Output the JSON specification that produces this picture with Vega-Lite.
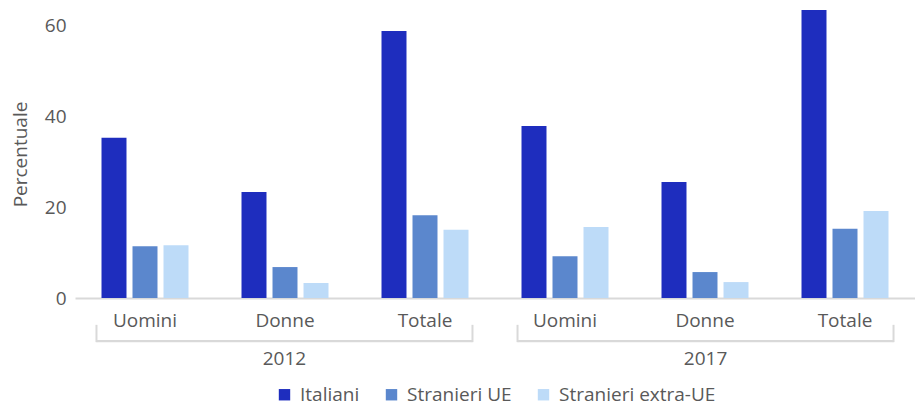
{
  "$schema": "https://vega.github.io/schema/vega-lite/v6.json",
  "width": 840,
  "height": 288,
  "autosize": "none",
  "padding": {"left": 75, "top": 10, "right": 0, "bottom": 108},
  "config": {
    "view": {"stroke": null},
    "font": "Open Sans",
    "axis": {"labelColor": "#595959", "titleColor": "#595959", "labelFont": "Open Sans", "titleFont": "Open Sans"},
    "legend": {"labelColor": "#595959", "labelFont": "Open Sans", "layout": {"bottom": {"anchor": "middle"}}}
  },
  "layer": [
    {
      "data": {
        "values": [
          {"gruppo": "2012|Uomini", "serie": "Italiani", "valore": 35.2},
          {"gruppo": "2012|Uomini", "serie": "Stranieri UE", "valore": 11.4},
          {"gruppo": "2012|Uomini", "serie": "Stranieri extra-UE", "valore": 11.6},
          {"gruppo": "2012|Donne", "serie": "Italiani", "valore": 23.3},
          {"gruppo": "2012|Donne", "serie": "Stranieri UE", "valore": 6.8},
          {"gruppo": "2012|Donne", "serie": "Stranieri extra-UE", "valore": 3.3},
          {"gruppo": "2012|Totale", "serie": "Italiani", "valore": 58.7},
          {"gruppo": "2012|Totale", "serie": "Stranieri UE", "valore": 18.2},
          {"gruppo": "2012|Totale", "serie": "Stranieri extra-UE", "valore": 15.0},
          {"gruppo": "2017|Uomini", "serie": "Italiani", "valore": 37.8},
          {"gruppo": "2017|Uomini", "serie": "Stranieri UE", "valore": 9.2},
          {"gruppo": "2017|Uomini", "serie": "Stranieri extra-UE", "valore": 15.6},
          {"gruppo": "2017|Donne", "serie": "Italiani", "valore": 25.5},
          {"gruppo": "2017|Donne", "serie": "Stranieri UE", "valore": 5.7},
          {"gruppo": "2017|Donne", "serie": "Stranieri extra-UE", "valore": 3.5},
          {"gruppo": "2017|Totale", "serie": "Italiani", "valore": 63.3},
          {"gruppo": "2017|Totale", "serie": "Stranieri UE", "valore": 15.2},
          {"gruppo": "2017|Totale", "serie": "Stranieri extra-UE", "valore": 19.1}
        ]
      },
      "mark": {"type": "bar"},
      "encoding": {
        "x": {
          "field": "gruppo",
          "type": "nominal",
          "sort": ["2012|Uomini", "2012|Donne", "2012|Totale", "2017|Uomini", "2017|Donne", "2017|Totale"],
          "scale": {"paddingInner": 0, "paddingOuter": 0},
          "title": null,
          "axis": {
            "labelExpr": "split(datum.label, '|')[1]",
            "labelAngle": 0,
            "labelFontSize": 19,
            "labelPadding": 13,
            "ticks": false,
            "domainColor": "#d9d9d9",
            "domainWidth": 2,
            "grid": false
          }
        },
        "xOffset": {
          "field": "serie",
          "type": "nominal",
          "sort": ["Italiani", "Stranieri UE", "Stranieri extra-UE"],
          "scale": {"paddingInner": 0.194, "paddingOuter": 0.855}
        },
        "y": {
          "field": "valore",
          "type": "quantitative",
          "scale": {"domain": [0, 63.3], "nice": false},
          "title": "Percentuale",
          "axis": {
            "values": [0, 20, 40, 60],
            "grid": false,
            "domain": false,
            "ticks": false,
            "labelFontSize": 19,
            "labelPadding": 9,
            "titleFontSize": 19,
            "titleFontWeight": "normal",
            "titlePadding": 14
          }
        },
        "color": {
          "field": "serie",
          "type": "nominal",
          "sort": ["Italiani", "Stranieri UE", "Stranieri extra-UE"],
          "scale": {"domain": ["Italiani", "Stranieri UE", "Stranieri extra-UE"], "range": ["#1e2dbe", "#5b87cd", "#bddbf8"]},
          "legend": {
            "title": null,
            "orient": "bottom",
            "direction": "horizontal",
            "symbolType": "square",
            "symbolSize": 130,
            "symbolStrokeWidth": 0,
            "labelFontSize": 19,
            "labelOffset": 6,
            "columnPadding": 22,
            "offset": 55
          }
        }
      }
    },
    {
      "data": {"values": [{"anno": "2012"}, {"anno": "2017"}]},
      "layer": [
        {
          "mark": {"type": "bar", "color": "#d9d9d9"},
          "encoding": {
            "x": {"field": "anno", "type": "nominal", "scale": {"paddingInner": 0.107, "paddingOuter": 0.051}, "axis": null},
            "y": {"datum": -9.25},
            "y2": {"datum": -9.7}
          }
        },
        {
          "mark": {"type": "rule", "color": "#d9d9d9", "strokeWidth": 2},
          "encoding": {
            "x": {"field": "anno", "type": "nominal", "bandPosition": 0, "axis": null},
            "y": {"datum": -5.9},
            "y2": {"datum": -9.7}
          }
        },
        {
          "mark": {"type": "rule", "color": "#d9d9d9", "strokeWidth": 2},
          "encoding": {
            "x": {"field": "anno", "type": "nominal", "bandPosition": 1, "axis": null},
            "y": {"datum": -5.9},
            "y2": {"datum": -9.7}
          }
        },
        {
          "mark": {"type": "text", "color": "#595959", "fontSize": 19, "baseline": "middle", "font": "Open Sans"},
          "encoding": {
            "x": {"field": "anno", "type": "nominal", "bandPosition": 0.5, "axis": null},
            "y": {"datum": -13.4},
            "text": {"field": "anno"}
          }
        }
      ]
    }
  ],
  "resolve": {"scale": {"x": "independent", "color": "independent"}}
}
